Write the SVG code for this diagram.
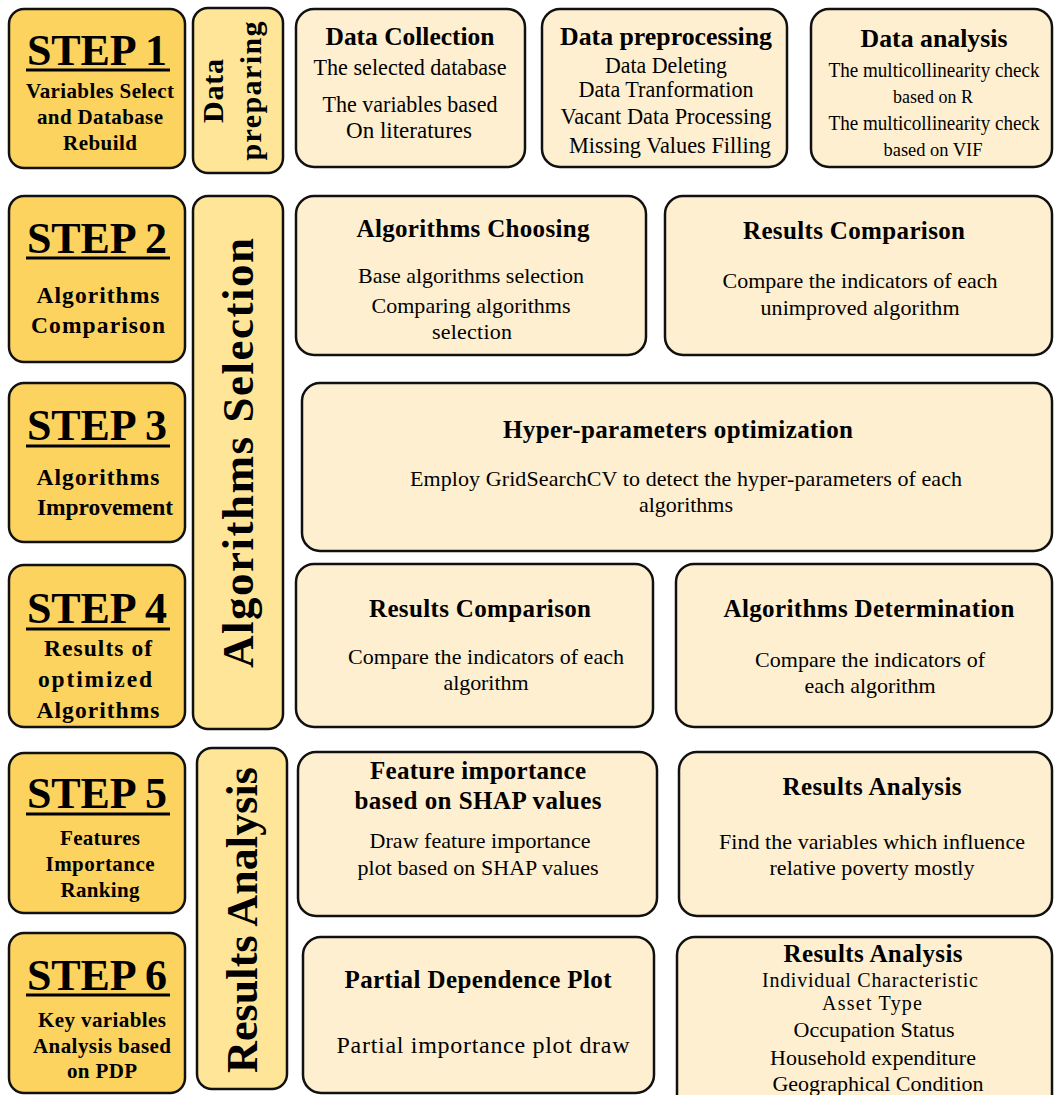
<svg xmlns="http://www.w3.org/2000/svg" width="1055" height="1095" viewBox="0 0 1055 1095">
  <style>
    text { font-family: "Liberation Serif", "Times New Roman", serif; fill: #000; text-anchor: middle; }
    .step { fill: #FCD35F; stroke: #111; stroke-width: 2.5; }
    .cat { fill: #FFE597; stroke: #111; stroke-width: 2.5; }
    .box { fill: #FEEFD0; stroke: #111; stroke-width: 2.5; }
    .uline { stroke: #000; stroke-width: 3; }
    .h { font-size: 44px; font-weight: bold; }
    .hs { font-size: 21px; font-weight: bold; }
    .hb { font-size: 23.5px; font-weight: bold; }
    .v { font-weight: bold; }
    .t { font-size: 25px; font-weight: bold; }
    .s { font-size: 22px; }
    .c { font-size: 23px; }
  </style>

  <!-- Step column -->
  <g id="step1">
    <rect class="step" x="9" y="9" width="176" height="159" rx="15"/>
    <text class="h" x="97" y="65" textLength="140">STEP 1</text>
    <line class="uline" x1="26" y1="70" x2="170" y2="70"/>
    <text class="hs" x="100" y="98" textLength="148">Variables Select</text>
    <text class="hs" x="100" y="124" textLength="126">and Database</text>
    <text class="hs" x="100" y="150" textLength="74">Rebuild</text>
  </g>
  <g id="step2">
    <rect class="step" x="9" y="196" width="176" height="166" rx="15"/>
    <text class="h" x="97" y="253" textLength="140">STEP 2</text>
    <line class="uline" x1="26" y1="258" x2="170" y2="258"/>
    <text class="hb" x="98" y="303" textLength="123">Algorithms</text>
    <text class="hb" x="98" y="333" textLength="134">Comparison</text>
  </g>
  <g id="step3">
    <rect class="step" x="9" y="383" width="176" height="159" rx="15"/>
    <text class="h" x="97" y="440" textLength="140">STEP 3</text>
    <line class="uline" x1="26" y1="446" x2="170" y2="446"/>
    <text class="hb" x="98" y="485" textLength="123">Algorithms</text>
    <text class="hb" x="105" y="515" textLength="136">Improvement</text>
  </g>
  <g id="step4">
    <rect class="step" x="9" y="565" width="176" height="162" rx="15"/>
    <text class="h" x="97" y="623" textLength="140">STEP 4</text>
    <line class="uline" x1="26" y1="629" x2="170" y2="629"/>
    <text class="hb" x="98" y="656" textLength="108">Results of</text>
    <text class="hb" x="95" y="687" textLength="114">optimized</text>
    <text class="hb" x="98" y="718" textLength="123">Algorithms</text>
  </g>
  <g id="step5">
    <rect class="step" x="9" y="753" width="176" height="160" rx="15"/>
    <text class="h" x="97" y="808" textLength="140">STEP 5</text>
    <line class="uline" x1="26" y1="814" x2="170" y2="814"/>
    <text class="hs" x="100" y="845" textLength="80">Features</text>
    <text class="hs" x="100" y="871" textLength="109">Importance</text>
    <text class="hs" x="100" y="897" textLength="79">Ranking</text>
  </g>
  <g id="step6">
    <rect class="step" x="9" y="933" width="176" height="160" rx="15"/>
    <text class="h" x="97" y="990" textLength="140">STEP 6</text>
    <line class="uline" x1="26" y1="995" x2="170" y2="995"/>
    <text class="hs" x="102" y="1027" textLength="128">Key variables</text>
    <text class="hs" x="102" y="1053" textLength="138">Analysis based</text>
    <text class="hs" x="102" y="1078" textLength="70">on PDP</text>
  </g>

  <!-- Stage column (vertical labels) -->
  <g id="stage-data-preparing">
    <rect class="cat" x="193" y="8" width="90" height="165" rx="15"/>
    <text class="v" transform="translate(223 91) rotate(-90)" style="font-size:30px" textLength="64">Data</text>
    <text class="v" transform="translate(261 91) rotate(-90)" style="font-size:30px" textLength="139">preparing</text>
  </g>
  <g id="stage-algorithms-selection">
    <rect class="cat" x="193" y="196" width="90" height="533" rx="15"/>
    <text class="v" transform="translate(253 453) rotate(-90)" style="font-size:45px" textLength="430">Algorithms Selection</text>
  </g>
  <g id="stage-results-analysis">
    <rect class="cat" x="197" y="748" width="90" height="341" rx="15"/>
    <text class="v" transform="translate(257 920) rotate(-90)" style="font-size:44px" textLength="306">Results Analysis</text>
  </g>

  <!-- Task boxes -->
  <g id="data-collection">
    <rect class="box" x="296" y="9" width="229" height="158" rx="18"/>
    <text class="t" x="410" y="45" textLength="169" lengthAdjust="spacingAndGlyphs" style="font-size:26px">Data Collection</text>
    <text class="c" x="410" y="75" textLength="193" lengthAdjust="spacingAndGlyphs">The selected database</text>
    <text class="c" x="410" y="112" textLength="175" lengthAdjust="spacingAndGlyphs">The variables based</text>
    <text class="c" x="409" y="138" textLength="126" lengthAdjust="spacingAndGlyphs">On literatures</text>
  </g>
  <g id="data-preprocessing">
    <rect class="box" x="542" y="9" width="245" height="158" rx="18"/>
    <text class="t" x="666" y="45" textLength="212" lengthAdjust="spacingAndGlyphs" style="font-size:26px">Data preprocessing</text>
    <text class="c" x="666" y="73" textLength="122" lengthAdjust="spacingAndGlyphs">Data Deleting</text>
    <text class="c" x="666" y="97" textLength="175" lengthAdjust="spacingAndGlyphs">Data Tranformation</text>
    <text class="c" x="666" y="124" textLength="211" lengthAdjust="spacingAndGlyphs">Vacant Data Processing</text>
    <text class="c" x="670" y="153" textLength="202" lengthAdjust="spacingAndGlyphs">Missing Values Filling</text>
  </g>
  <g id="data-analysis">
    <rect class="box" x="811" y="9" width="241" height="158" rx="18"/>
    <text class="t" x="934" y="47" textLength="147" lengthAdjust="spacingAndGlyphs" style="font-size:26px">Data analysis</text>
    <text x="934" y="77" textLength="211" lengthAdjust="spacingAndGlyphs" style="font-size:20px">The multicollinearity check</text>
    <text x="933" y="103" textLength="80" lengthAdjust="spacingAndGlyphs" style="font-size:18px">based on R</text>
    <text x="934" y="130" textLength="211" lengthAdjust="spacingAndGlyphs" style="font-size:20px">The multicollinearity check</text>
    <text x="933" y="156" textLength="99" lengthAdjust="spacingAndGlyphs" style="font-size:18px">based on VIF</text>
  </g>

  <g id="algorithms-choosing">
    <rect class="box" x="296" y="196" width="350" height="159" rx="18"/>
    <text class="t" x="473" y="237" textLength="233">Algorithms Choosing</text>
    <text class="s" x="471" y="283" textLength="226">Base algorithms selection</text>
    <text class="s" x="471" y="313" textLength="199">Comparing algorithms</text>
    <text class="s" x="472" y="339" textLength="80">selection</text>
  </g>
  <g id="results-comparison-unimproved">
    <rect class="box" x="665" y="196" width="387" height="159" rx="18"/>
    <text class="t" x="854" y="239" textLength="222">Results Comparison</text>
    <text class="s" x="860" y="288" textLength="275">Compare the indicators of each</text>
    <text class="s" x="860" y="315" textLength="199">unimproved algorithm</text>
  </g>

  <g id="hyper-parameters">
    <rect class="box" x="302" y="383" width="750" height="168" rx="18"/>
    <text class="t" x="678" y="438" textLength="350">Hyper-parameters optimization</text>
    <text class="s" x="686" y="486" textLength="552">Employ GridSearchCV to detect the hyper-parameters of each</text>
    <text class="s" x="686" y="512" textLength="94">algorithms</text>
  </g>

  <g id="results-comparison-optimized">
    <rect class="box" x="296" y="564" width="357" height="163" rx="18"/>
    <text class="t" x="480" y="617" textLength="222">Results Comparison</text>
    <text class="s" x="486" y="664" textLength="276">Compare the indicators of each</text>
    <text class="s" x="486" y="690" textLength="85">algorithm</text>
  </g>
  <g id="algorithms-determination">
    <rect class="box" x="676" y="564" width="376" height="163" rx="18"/>
    <text class="t" x="869" y="617" textLength="291">Algorithms Determination</text>
    <text class="s" x="870" y="667" textLength="230">Compare the indicators of</text>
    <text class="s" x="870" y="693" textLength="131">each algorithm</text>
  </g>

  <g id="feature-importance">
    <rect class="box" x="298" y="752" width="359" height="164" rx="18"/>
    <text class="t" x="478" y="779" textLength="216">Feature importance</text>
    <text class="t" x="478" y="809" textLength="247">based on SHAP values</text>
    <text class="s" x="480" y="848" textLength="221">Draw feature importance</text>
    <text class="s" x="478" y="875" textLength="241">plot based on SHAP values</text>
  </g>
  <g id="results-analysis-features">
    <rect class="box" x="679" y="752" width="373" height="164" rx="18"/>
    <text class="t" x="872" y="795" textLength="179">Results Analysis</text>
    <text class="s" x="872" y="849" textLength="306">Find the variables which influence</text>
    <text class="s" x="872" y="875" textLength="205">relative poverty mostly</text>
  </g>

  <g id="partial-dependence">
    <rect class="box" x="303" y="937" width="351" height="156" rx="18"/>
    <text class="t" x="478" y="988" textLength="267">Partial Dependence Plot</text>
    <text class="s" x="483" y="1053" textLength="293" style="font-size:24px">Partial importance plot draw</text>
  </g>
  <g id="results-analysis-pdp">
    <rect class="box" x="677" y="937" width="375" height="175" rx="18"/>
    <text class="t" x="873" y="962" textLength="179">Results Analysis</text>
    <text class="s" x="870" y="987" textLength="216" style="font-size:20px">Individual Characteristic</text>
    <text class="s" x="872" y="1010" textLength="100" style="font-size:20px">Asset Type</text>
    <text class="s" x="874" y="1037" textLength="161">Occupation Status</text>
    <text class="s" x="873" y="1065" textLength="206">Household expenditure</text>
    <text class="s" x="878" y="1091" textLength="211">Geographical Condition</text>
  </g>

  <!-- Layout has no connectors -->
  <g id="connectors"/>
</svg>
